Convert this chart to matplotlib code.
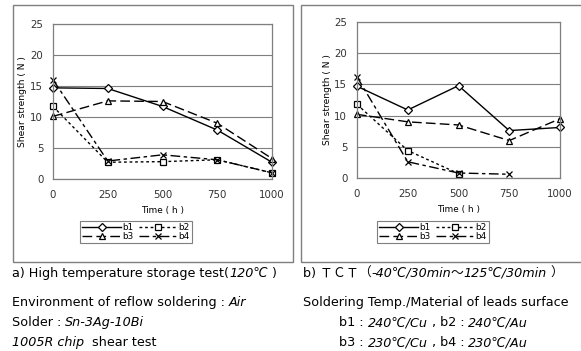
import matplotlib
matplotlib.use("Agg")
import matplotlib.pyplot as plt
from matplotlib.patches import Rectangle
import numpy as np
import re

# data
hours = [0, 250, 500, 750, 1000]
series_names = ["b1", "b2", "b3", "b4"]

# a) high temperature storage test
hts_b1 = [14.7, 14.6, 11.7, 7.9, 2.7]
hts_b2 = [11.7, 2.7, 2.8, 3.1, 1.0]
hts_b3 = [10.1, 12.6, 12.5, 9.0, 3.3]
hts_b4 = [16.0, 2.9, 3.9, 3.1, 1.0]

# b) TCT
tct_b1 = [14.7, 10.9, 14.8, 7.6, 8.1]
tct_b2 = [11.8, 4.4, 0.7, np.nan, np.nan]
tct_b3 = [10.2, 9.0, 8.5, 6.0, 9.5]
tct_b4 = [16.2, 2.6, 0.8, 0.6, np.nan]

y_ticks = [0, 5, 10, 15, 20, 25]

styles = {
    "b1": dict(marker="D", linestyle="-"),
    "b2": dict(marker="s", dashes=(2, 2)),
    "b3": dict(marker="^", dashes=(7, 3)),
    "b4": dict(marker="x", dashes=(7, 2.5, 2.5, 2.5)),
}

# captions: (x, baseline y, target right edge, runs of (text, italic))
captions = [
    (12, 277, 278, [("a) High temperature storage test(", False), ("120℃", True), (" )", False)]),
    (12, 306, 246, [("Environment of reflow soldering : ", False), ("Air", True)]),
    (12, 326, None, [("Solder : ", False), ("Sn-3Ag-10Bi", True)]),
    (12, 346, None, [("1005R chip", True), ("  shear test", False)]),
    (303, 277, 568, [("b) ＴＣＴ（", False), ("-40℃/30min～125℃/30min", True), (" ）", False)]),
    (303, 306, 568, [("Soldering Temp./Material of leads surface", False)]),
    (339, 326, 538, [("b1 : ", False), ("240℃/Cu", True), (" , b2 : ", False), ("240℃/Au", True)]),
    (339, 346, None, [("b3 : ", False), ("230℃/Cu", True), (" , b4 : ", False), ("230℃/Au", True)]),
]

W, H = 581, 351
fig = plt.figure(figsize=(W / 100, H / 100), dpi=100)
fig.patch.set_facecolor("white")

GRAY = "#7f7f7f"
JP = ["Noto Sans CJK JP", "DejaVu Sans"]
UP = ["DejaVu Sans", "Noto Sans CJK JP"]


def px(x0, y0, x1, y1):
    # pixel box (top-left origin) -> figure fraction rect
    return [x0 / W, 1 - y1 / H, (x1 - x0) / W, (y1 - y0) / H]


def panel(rect, box, data, legend_x):
    # outer frame of the panel
    bx0, by0, bx1, by1 = box
    fig.add_artist(Rectangle((bx0 / W, 1 - by1 / H), (bx1 - bx0) / W, (by1 - by0) / H,
                             transform=fig.transFigure, fill=False,
                             edgecolor=GRAY, linewidth=1.0))
    ax = fig.add_axes(px(*rect))
    lines = {}
    for name, vals in zip(series_names, data):
        st = dict(styles[name])
        lines[name], = ax.plot(hours, vals, color="black", linewidth=1.0,
                               markersize=5 if name != "b1" else 4.5,
                               markerfacecolor="white", markeredgecolor="black",
                               markeredgewidth=0.9, clip_on=False, label=name, **st)
    ax.set_xlim(0, 1000)
    ax.set_ylim(0, 25)
    ax.set_xticks(hours)
    ax.set_yticks(y_ticks)
    ax.tick_params(length=0, labelsize=7.4, colors="#333333")
    ax.tick_params(axis="x", pad=8)
    ax.tick_params(axis="y", pad=7)
    ax.yaxis.grid(True, color=GRAY, linewidth=0.8)
    ax.set_axisbelow(True)
    for s in ax.spines.values():
        s.set_color(GRAY)
        s.set_linewidth(0.9)
    ax.set_ylabel("Shear strength ( N )", fontsize=6.6, labelpad=2)
    ax.set_xlabel("Time ( h )", fontsize=6.4, labelpad=4)
    order = ["b1", "b3", "b2", "b4"]  # row-wise: b1 b2 / b3 b4
    leg = ax.legend([lines[n] for n in order], order, ncol=2, loc="center", fontsize=6.4,
                    bbox_to_anchor=(legend_x / W, 1 - 232 / H),
                    bbox_transform=fig.transFigure,
                    handlelength=4.4, handletextpad=0.1, columnspacing=0.6,
                    labelspacing=0.05, borderpad=0.2, fancybox=False,
                    frameon=True, edgecolor=GRAY, framealpha=1)
    leg.get_frame().set_linewidth(0.8)
    return ax


panel((53, 24, 272, 179), (13, 5, 293, 262), [hts_b1, hts_b2, hts_b3, hts_b4], 136)
panel((357, 22, 560, 178), (301, 5, 590, 262), [tct_b1, tct_b2, tct_b3, tct_b4], 433)

renderer = fig.canvas.get_renderer()
FULLWIDTH = "ＴＣＴ（）～"


def advance(s, fs, fam, style):
    # width of s including its spaces: measure against an "I" sentinel
    t = fig.text(0, 0, "I" + s + "I", fontsize=fs, family=fam, style=style)
    w = t.get_window_extent(renderer).width
    t.set_text("II")
    w -= t.get_window_extent(renderer).width
    t.remove()
    return w


def runs(x, y, parts, fs, draw=True):
    # lay out text runs with mixed upright / italic styles on one baseline;
    # returns the right edge in pixels
    xp = x
    for s, italic in parts:
        for tok in re.findall(r"[ＴＣＴ（）～]|[^ＴＣＴ（）～]+", s):
            wide = tok in FULLWIDTH
            fam = JP if wide else UP
            style = "italic" if (italic and not wide) else "normal"
            if draw:
                fig.text(xp / W, 1 - y / H, tok, fontsize=fs, family=fam, style=style,
                         va="baseline", ha="left", color="black")
            xp += advance(tok, fs, fam, style)
    return xp


# pick one font size so that the measured lines match the reference widths
FS0 = 8.0
ratios = []
for x, y, target, parts in captions:
    if target is not None:
        ratios.append((target - x) / (runs(x, y, parts, FS0, draw=False) - x))
FS = FS0 * float(np.median(ratios))

for x, y, target, parts in captions:
    runs(x, y, parts, FS)

fig.savefig("out.png", dpi=100)
